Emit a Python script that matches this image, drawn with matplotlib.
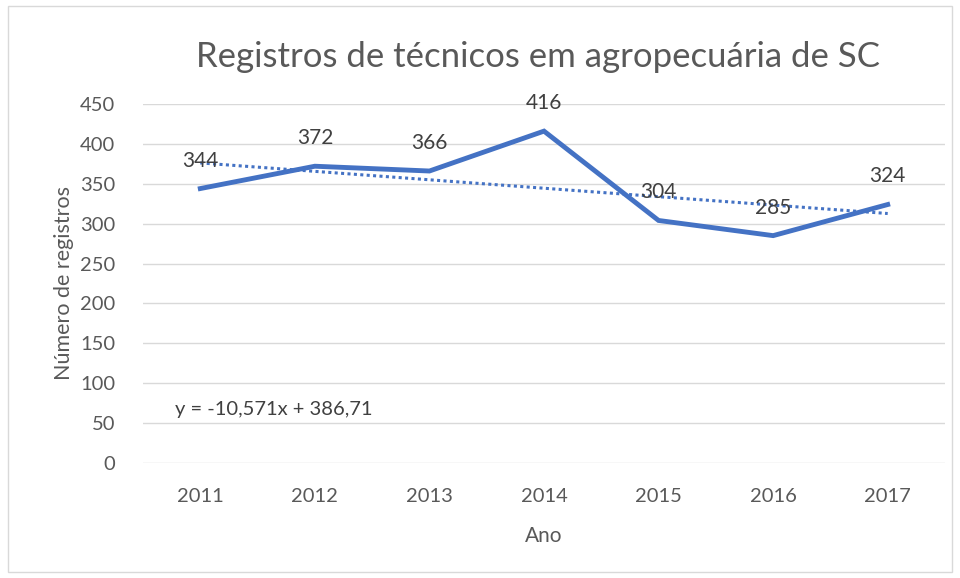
import numpy as np
import matplotlib.pyplot as plt
from matplotlib.patches import Rectangle

plt.rcParams['font.family'] = ['Lato', 'DejaVu Sans']

anos = ['2011', '2012', '2013', '2014', '2015', '2016', '2017']
registros = [344, 372, 366, 416, 304, 285, 324]
yticks = [0, 50, 100, 150, 200, 250, 300, 350, 400, 450]

azul = '#4472C4'
cinza = '#595959'

fig = plt.figure(figsize=(9.6, 5.78), dpi=100)
fig.patches.append(Rectangle((8/960, 6/578), 944/960, 566/578, transform=fig.transFigure,
                             fill=False, edgecolor='#d9d9d9', lw=1))
ax = fig.add_axes([143/960, 1-463/578, 802/960, 359/578])

x = np.arange(1, len(anos)+1)
ax.plot(x, registros, color=azul, lw=3.5, solid_joinstyle='miter', zorder=3)

# linha de tendencia linear (como no Excel)
a, b = np.polyfit(x, registros, 1)
ax.plot(x, a*x + b, color=azul, lw=2.2, ls=(0, (1, 1.1)), zorder=3)

for xi, v in zip(x, registros):
    ax.annotate(str(v), (xi, v), xytext=(0, 13), textcoords='offset points',
                ha='center', va='bottom', fontsize=15, color='#404040')

eq = 'y = %sx + %s' % (('%.3f' % a).replace('.', ','), ('%.2f' % b).replace('.', ','))
ax.text(0.04, 0.15, eq, transform=ax.transAxes, fontsize=14.5, color='#404040', va='center')

ax.set_xlim(0.5, len(anos)+0.5)
ax.set_ylim(0, 450)
ax.set_xticks(x)
ax.set_xticklabels(anos)
ax.set_yticks(yticks)
ax.tick_params(axis='x', length=0, labelsize=14.5, colors=cinza, pad=18)
ax.tick_params(axis='y', length=0, labelsize=14.5, colors=cinza, pad=20)
ax.grid(axis='y', color='#d9d9d9', lw=1)
ax.set_axisbelow(True)
for s in ax.spines.values():
    s.set_visible(False)

ax.set_xlabel('Ano', fontsize=15, color=cinza, labelpad=15)
ax.set_ylabel('Número de registros', fontsize=15.5, color=cinza, labelpad=4)
fig.text(538/960, 1-57/578, 'Registros de técnicos em agropecuária de SC',
         ha='center', va='center', fontsize=25, color=cinza)

plt.savefig('out.png', dpi=100)
